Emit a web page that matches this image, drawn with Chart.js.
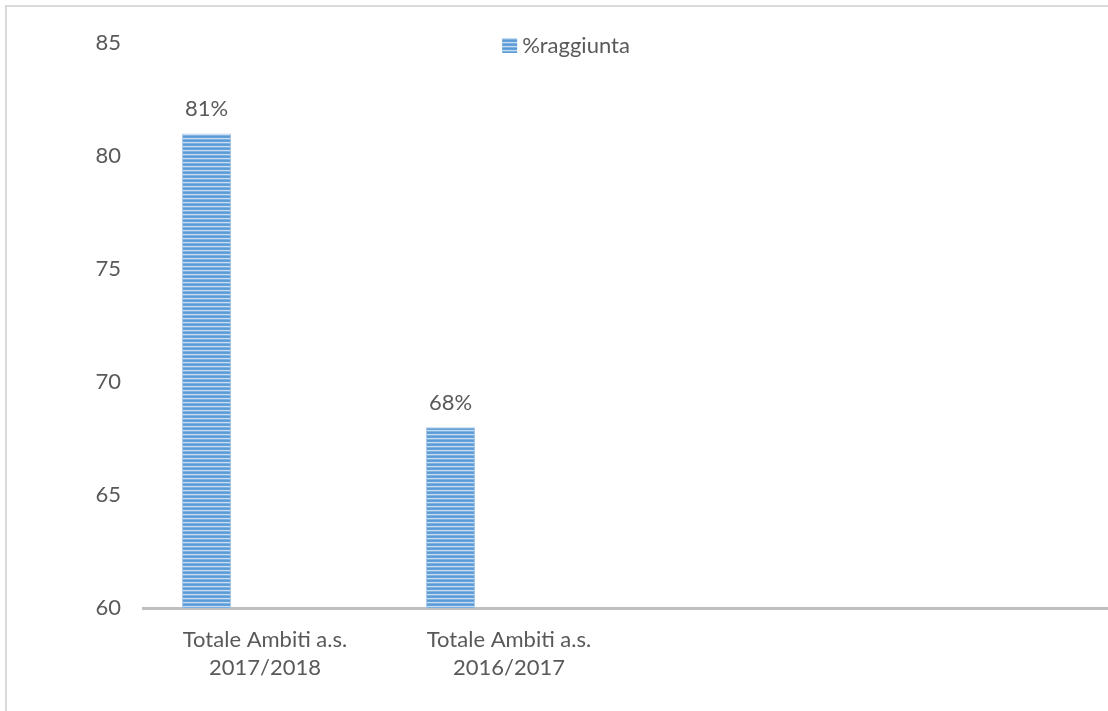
<!DOCTYPE html>
<html>
<head>
<meta charset="utf-8">
<script src="https://cdn.jsdelivr.net/npm/chart.js@4.4.1/dist/chart.umd.min.js"></script>
<style>
  html, body { margin: 0; padding: 0; background: #fff; overflow: hidden; width: 1108px; height: 711px; }
  #frame { position: absolute; left: 5px; top: 5px; width: 1300px; height: 900px; border-left: 2px solid #d9d9d9; border-top: 2px solid #d9d9d9; }
  #wrap { position: absolute; left: 0; top: 0; width: 1130px; height: 711px; }
</style>
</head>
<body>
<div id="frame"></div>
<div id="wrap"><canvas id="c" width="1130" height="711"></canvas></div>
<script>
// ---- data ----
const categories = [["Totale Ambiti a.s.", "2017/2018"], ["Totale Ambiti a.s.", "2016/2017"], "", ""];
const seriesName = "%raggiunta";
const raggiunta = [81, 68, null, null];
const emptySeriesA = [null, null, null, null];
const emptySeriesB = [null, null, null, null];
const yTicks = [60, 65, 70, 75, 80, 85];

const FONT = "Lato";
const TEXT = "#595959";

function makePattern() {
  const p = document.createElement('canvas');
  p.width = 4; p.height = 4;
  const g = p.getContext('2d');
  const rows = ['#5b9bd5', '#66a2d8', '#c6dcf2', '#7fb1e0'];
  rows.forEach((c, i) => { g.fillStyle = c; g.fillRect(0, i, 4, 1); });
  return document.getElementById('c').getContext('2d').createPattern(p, 'repeat');
}
const pattern = makePattern();

const labelPlugin = {
  id: 'valueLabels',
  afterDatasetsDraw(chart) {
    const ctx = chart.ctx;
    const meta = chart.getDatasetMeta(0);
    ctx.save();
    ctx.font = "22px " + FONT;
    ctx.fillStyle = TEXT;
    ctx.textAlign = 'center';
    ctx.textBaseline = 'middle';
    meta.data.forEach((el, i) => {
      const v = raggiunta[i];
      if (v === null) return;
      ctx.fillText(v + '%', el.x, el.y - 24);
    });
    ctx.restore();
  }
};

const legendPlugin = {
  id: 'customLegend',
  afterDraw(chart) {
    const ctx = chart.ctx;
    ctx.save();
    ctx.font = "22px " + FONT;
    const tw = ctx.measureText(seriesName).width;
    const total = 15 + 5 + tw;
    const cx = 566;
    const x0 = cx - total / 2;
    const yc = 45.5;
    ctx.fillStyle = pattern;
    ctx.fillRect(x0, yc - 7.5, 15, 15);
    ctx.fillStyle = TEXT;
    ctx.textAlign = 'left';
    ctx.textBaseline = 'middle';
    ctx.fillText(seriesName, x0 + 20, yc);
    ctx.restore();
  }
};

new Chart(document.getElementById('c'), {
  type: 'bar',
  data: {
    labels: categories,
    datasets: [
      { label: seriesName, data: raggiunta, backgroundColor: pattern, borderColor: '#a9c9ea', borderWidth: 1, categoryPercentage: 0.719, barPercentage: 0.838 },
      { label: 'a', data: emptySeriesA, backgroundColor: 'transparent', categoryPercentage: 0.719, barPercentage: 0.838 },
      { label: 'b', data: emptySeriesB, backgroundColor: 'transparent', categoryPercentage: 0.719, barPercentage: 0.838 }
    ]
  },
  options: {
    responsive: false,
    animation: false,
    devicePixelRatio: 1,
    layout: { padding: { top: 43, right: 11, left: 0, bottom: 0 } },
    plugins: { legend: { display: false }, tooltip: { enabled: false } },
    scales: {
      x: {
        grid: { display: false, drawTicks: false },
        border: { display: true, color: '#bfbfbf', width: 3 },
        ticks: { color: TEXT, font: { family: FONT, size: 22, lineHeight: 28 / 22 }, padding: 18, maxRotation: 0, autoSkip: false },
        afterFit(scale) { scale.height = 711 - 608; }
      },
      y: {
        min: yTicks[0], max: yTicks[yTicks.length - 1],
        grid: { display: false, drawTicks: false },
        border: { display: false },
        afterBuildTicks(scale) { scale.ticks = yTicks.map(v => ({ value: v })); },
        ticks: { color: TEXT, font: { family: FONT, size: 22 }, padding: 22 },
        afterFit(scale) { scale.width = 143; }
      }
    }
  },
  plugins: [labelPlugin, legendPlugin]
});
</script>
</body>
</html>
